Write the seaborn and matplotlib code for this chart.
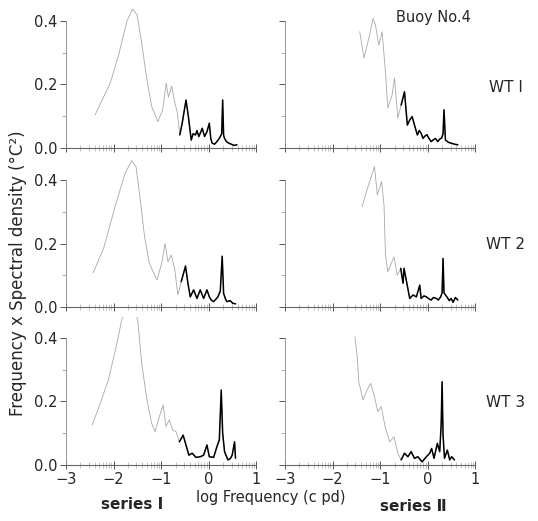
import numpy as np
import pandas as pd
import matplotlib.pyplot as plt
import seaborn as sns

sns.set_style("ticks")
plt.rcParams['font.family'] = ['DejaVu Sans']

# series I, WT 1
s1_wt1_x = [-2.39, -2.07, -1.90, -1.72, -1.60, -1.51, -1.41, -1.30, -1.20, -1.07, -0.97, -0.895,
            -0.85, -0.78, -0.72, -0.66, -0.61, -0.56, -0.48, -0.43, -0.37, -0.33, -0.28, -0.25,
            -0.21, -0.17, -0.14, -0.09, -0.04, 0.01, 0.04, 0.07, 0.12, 0.17, 0.21, 0.24, 0.27,
            0.29, 0.31, 0.33, 0.37, 0.42, 0.47, 0.53, 0.59]
s1_wt1_y = [0.104, 0.205, 0.29, 0.40, 0.437, 0.42, 0.33, 0.214, 0.13, 0.083, 0.12, 0.204,
            0.16, 0.195, 0.146, 0.11, 0.041, 0.078, 0.151, 0.099, 0.025, 0.045, 0.041, 0.055,
            0.036, 0.050, 0.062, 0.036, 0.051, 0.078, 0.030, 0.015, 0.012, 0.020, 0.028, 0.036, 0.045,
            0.151, 0.040, 0.030, 0.020, 0.015, 0.012, 0.008, 0.010]

# series II, WT 1
s2_wt1_x = [-1.43, -1.34, -1.24, -1.15, -1.10, -1.03, -0.96, -0.89, -0.84, -0.75, -0.70, -0.63,
            -0.56, -0.49, -0.43, -0.38, -0.33, -0.28, -0.22, -0.18, -0.14, -0.10, -0.07, -0.02,
            0.02, 0.07, 0.11, 0.16, 0.21, 0.25, 0.29, 0.32, 0.34, 0.37, 0.43, 0.49, 0.56, 0.63]
s2_wt1_y = [0.366, 0.283, 0.345, 0.408, 0.387, 0.324, 0.366, 0.24, 0.125, 0.167, 0.22, 0.094,
            0.135, 0.177, 0.072, 0.088, 0.099, 0.072, 0.041, 0.055, 0.046, 0.030, 0.036, 0.042,
            0.031, 0.020, 0.025, 0.030, 0.020, 0.028, 0.031, 0.045, 0.12, 0.025, 0.018, 0.015, 0.012, 0.01]

# series I, WT 2
s1_wt2_x = [-2.43, -2.21, -1.97, -1.76, -1.62, -1.53, -1.44, -1.35, -1.25, -1.09, -0.99, -0.92,
            -0.86, -0.79, -0.72, -0.65, -0.58, -0.49, -0.44, -0.39, -0.32, -0.25, -0.18, -0.11,
            -0.04, 0.01, 0.05, 0.10, 0.15, 0.19, 0.24, 0.28, 0.31, 0.35, 0.38, 0.45, 0.50, 0.56]
s1_wt2_y = [0.108, 0.185, 0.316, 0.421, 0.461, 0.442, 0.337, 0.221, 0.138, 0.085, 0.138, 0.20,
            0.143, 0.164, 0.122, 0.038, 0.08, 0.129, 0.075, 0.032, 0.054, 0.027, 0.054, 0.027,
            0.054, 0.032, 0.022, 0.017, 0.025, 0.032, 0.05, 0.16, 0.043, 0.025, 0.017, 0.020, 0.012, 0.01]

# series II, WT 2
s2_wt2_x = [-1.38, -1.29, -1.20, -1.12, -1.06, -0.97, -0.92, -0.89, -0.84, -0.71, -0.64, -0.57,
            -0.52, -0.50, -0.38, -0.31, -0.24, -0.17, -0.14, -0.08, -0.03, 0.02, 0.07, 0.12,
            0.18, 0.22, 0.27, 0.30, 0.32, 0.34, 0.37, 0.41, 0.45, 0.49, 0.53, 0.58, 0.63]
s2_wt2_y = [0.316, 0.363, 0.405, 0.442, 0.353, 0.395, 0.321, 0.164, 0.111, 0.158, 0.10, 0.122,
            0.075, 0.122, 0.027, 0.038, 0.032, 0.069, 0.027, 0.035, 0.032, 0.026, 0.022, 0.030,
            0.027, 0.022, 0.032, 0.045, 0.153, 0.045, 0.038, 0.030, 0.020, 0.027, 0.015, 0.030, 0.022]

# series I, WT 3
s1_wt3_x = [-2.45, -2.28, -2.11, -1.93, -1.83, -1.70, -1.62, -1.55, -1.49, -1.41, -1.30, -1.20,
            -1.13, -1.04, -0.96, -0.90, -0.83, -0.76, -0.69, -0.62, -0.54, -0.49, -0.42, -0.35,
            -0.27, -0.18, -0.11, -0.04, 0.01, 0.10, 0.17, 0.22, 0.26, 0.29, 0.33, 0.40, 0.45,
            0.49, 0.54, 0.56]
s1_wt3_y = [0.126, 0.194, 0.268, 0.383, 0.457, 0.50, 0.51, 0.49, 0.451, 0.32, 0.205, 0.131,
            0.105, 0.152, 0.189, 0.121, 0.142, 0.11, 0.105, 0.073, 0.094, 0.068, 0.031, 0.037,
            0.024, 0.026, 0.031, 0.063, 0.026, 0.024, 0.058, 0.079, 0.236, 0.10, 0.042, 0.016, 0.020,
            0.031, 0.073, 0.021]

# series II, WT 3
s2_wt3_x = [-1.53, -1.48, -1.45, -1.36, -1.28, -1.20, -1.12, -1.05, -0.98, -0.89, -0.80, -0.71,
            -0.63, -0.56, -0.49, -0.42, -0.35, -0.28, -0.21, -0.12, -0.03, 0.04, 0.08, 0.13,
            0.20, 0.25, 0.28, 0.30, 0.32, 0.35, 0.41, 0.46, 0.50, 0.56]
s2_wt3_y = [0.404, 0.336, 0.262, 0.205, 0.235, 0.257, 0.215, 0.168, 0.184, 0.116, 0.073, 0.089,
            0.037, 0.016, 0.037, 0.026, 0.042, 0.021, 0.026, 0.010, 0.026, 0.037, 0.052, 0.021,
            0.068, 0.042, 0.126, 0.262, 0.094, 0.021, 0.047, 0.016, 0.026, 0.016]

panels = [
    [(s1_wt1_x, s1_wt1_y), (s2_wt1_x, s2_wt1_y)],
    [(s1_wt2_x, s1_wt2_y), (s2_wt2_x, s2_wt2_y)],
    [(s1_wt3_x, s1_wt3_y), (s2_wt3_x, s2_wt3_y)],
]
row_labels = ["WT Ⅰ", "WT 2", "WT 3"]
x_ticks = [-3, -2, -1, 0, 1]
x_minor = [d + np.log10(k) for d in [-3, -2, -1, 0] for k in range(2, 10)]
y_ticks = [0.0, 0.2, 0.4]

fig = plt.figure(figsize=(5.38, 5.21), dpi=100)

lefts = [0.1227, 0.5297]
bottoms = [0.716, 0.4107, 0.1075]
h = 0.2438 * 0.465 / 0.4

for r in range(3):
    for c in range(2):
        ax = fig.add_axes([lefts[c], bottoms[r], 0.354, h])
        px, py = panels[r][c]
        df = pd.DataFrame({"x": px, "y": py})
        sns.lineplot(data=df, x="x", y="y", ax=ax, sort=False, estimator=None,
                     color="#a8a8a8", linewidth=0.6)
        dark = df[df["x"] >= -0.62]
        sns.lineplot(data=dark, x="x", y="y", ax=ax, sort=False, estimator=None,
                     color="black", linewidth=1.1)
        ax.set_xlim(-3, 1)
        ax.set_ylim(0, 0.465)
        sns.despine(ax=ax)
        ax.spines["left"].set_bounds(0, 0.4)
        ax.spines["left"].set_color("#888888")
        ax.spines["left"].set_linewidth(0.6)
        ax.spines["bottom"].set_color("#666666")
        ax.spines["bottom"].set_linewidth(0.8)
        ax.set_xticks(x_ticks)
        ax.set_xticks(x_minor, minor=True)
        ax.set_yticks(y_ticks)
        ax.set_yticks([0.1, 0.3], minor=True)
        ax.tick_params(axis="x", which="major", direction="inout", length=6, width=0.7,
                       color="#555555", labelsize=10.5, pad=2)
        ax.tick_params(axis="x", which="minor", direction="inout", length=4, width=0.5,
                       color="#aaaaaa")
        ax.tick_params(axis="y", which="major", direction="out", length=4, width=0.7,
                       color="#555555", labelsize=10.5, pad=2)
        ax.tick_params(axis="y", which="minor", direction="out", length=3, width=0.5,
                       color="#888888")
        ax.set_xlabel("")
        ax.set_ylabel("")
        if r < 2:
            ax.set_xticklabels([])
        if c == 1:
            ax.set_yticklabels([])
        else:
            ax.set_yticklabels(["0.0", "0.2", "0.4"])
    fig.text(0.94, [0.833, 0.53, 0.227][r], row_labels[r], ha="center", va="center",
             fontsize=11)

fig.text(0.805, 0.966, "Buoy No.4", ha="center", va="center", fontsize=10.5)
fig.text(0.034, 0.475, "Frequency x Spectral density (°C²)", rotation=90,
         ha="center", va="center", fontsize=12)
fig.text(0.503, 0.046, "log Frequency (c pd)", ha="center", va="center", fontsize=10.5)
fig.text(0.245, 0.031, "series Ⅰ", ha="center", va="center", fontsize=11,
         fontweight="bold")
fig.text(0.768, 0.027, "series Ⅱ", ha="center", va="center", fontsize=11,
         fontweight="bold")

fig.savefig("out.png", dpi=100)
